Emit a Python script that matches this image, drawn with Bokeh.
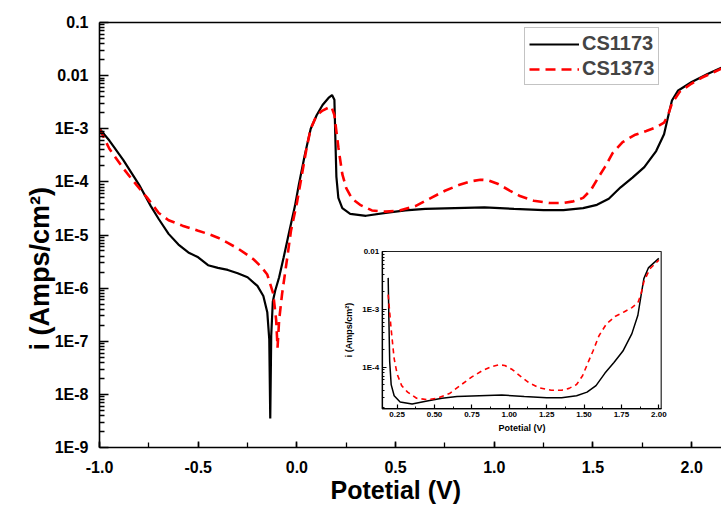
import math
from bokeh.plotting import figure
from bokeh.models import (Range1d, FixedTicker, SingleIntervalTicker, CustomJSTickFormatter,
                          PrintfTickFormatter, Legend, LegendItem, LinearAxis, LogAxis, LogScale,
                          Title)
from bokeh.embed import file_html
from bokeh.resources import INLINE

# ---------------- data (potential V, current density A/cm^2) ----------------
cs1173_v = [-1.00, -0.95, -0.88, -0.80, -0.74, -0.70, -0.65, -0.60, -0.55, -0.50, -0.45, -0.40,
            -0.35, -0.30, -0.25, -0.20, -0.17, -0.150, -0.140, -0.135, -0.130, -0.122, -0.110,
            -0.09, -0.067, -0.04, -0.01, 0.01, 0.04, 0.07, 0.10, 0.13, 0.16, 0.178, 0.19, 0.195,
            0.20, 0.21, 0.23, 0.27, 0.35, 0.45, 0.55, 0.65, 0.80, 0.95, 1.10, 1.25, 1.35, 1.45,
            1.52, 1.58, 1.64, 1.70, 1.76, 1.82, 1.86, 1.88, 1.90, 1.93, 2.00, 2.08, 2.15]
cs1173_i = [1.0e-3, 6.0e-4, 2.6e-4, 8.9e-5, 3.5e-5, 2.0e-5, 1.05e-5, 6.6e-6, 4.7e-6, 3.8e-6,
            2.7e-6, 2.4e-6, 2.2e-6, 1.9e-6, 1.6e-6, 1.1e-6, 7.1e-7, 3.5e-7, 1.1e-7, 3.5e-9,
            1.3e-7, 5.6e-7, 8.9e-7, 1.6e-6, 3.8e-6, 1.1e-5, 3.5e-5, 8.9e-5, 3.2e-4, 1.0e-3,
            1.8e-3, 2.8e-3, 3.8e-3, 4.3e-3, 3.5e-3, 6.3e-4, 1.26e-4, 5.0e-5, 3.2e-5, 2.5e-5,
            2.3e-5, 2.6e-5, 2.9e-5, 3.1e-5, 3.2e-5, 3.3e-5, 3.1e-5, 2.95e-5, 2.95e-5, 3.2e-5,
            3.7e-5, 4.8e-5, 7.9e-5, 1.2e-4, 1.9e-4, 3.8e-4, 7.9e-4, 1.66e-3, 3.4e-3, 5.2e-3,
            7.6e-3, 1.07e-2, 1.41e-2]

cs1373_v = [-1.00, -0.95, -0.88, -0.83, -0.76, -0.70, -0.65, -0.58, -0.50, -0.45, -0.40, -0.35,
            -0.30, -0.25, -0.22, -0.18, -0.15, -0.12, -0.105, -0.098, -0.09, -0.075, -0.05,
            -0.03, 0.00, 0.02, 0.05, 0.07, 0.10, 0.13, 0.16, 0.175, 0.19, 0.21, 0.23, 0.25, 0.28,
            0.32, 0.38, 0.45, 0.52, 0.60, 0.68, 0.75, 0.82, 0.88, 0.93, 0.97, 1.02, 1.08, 1.13,
            1.20, 1.28, 1.35, 1.40, 1.45, 1.49, 1.53, 1.56, 1.60, 1.65, 1.71, 1.77, 1.82, 1.86,
            1.88, 1.90, 1.94, 2.00, 2.05, 2.11, 2.15]
cs1373_i = [1.0e-3, 4.2e-4, 1.8e-4, 1.05e-4, 5.1e-5, 2.6e-5, 1.9e-5, 1.5e-5, 1.2e-5, 1.05e-5,
            8.9e-6, 7.1e-6, 5.6e-6, 4.2e-6, 3.5e-6, 2.5e-6, 1.8e-6, 7.9e-7, 2.5e-7, 7.6e-8,
            2.5e-7, 7.8e-7, 3.5e-6, 1.2e-5, 4.0e-5, 1.05e-4, 4.5e-4, 1.0e-3, 1.8e-3, 2.2e-3,
            2.5e-3, 2.6e-3, 1.8e-3, 4.5e-4, 1.4e-4, 7.6e-5, 4.8e-5, 3.7e-5, 2.9e-5, 2.75e-5,
            2.9e-5, 3.5e-5, 5.0e-5, 6.8e-5, 8.7e-5, 1.02e-4, 1.1e-4, 1.07e-4, 9.1e-5, 6.8e-5,
            5.4e-5, 4.4e-5, 4.0e-5, 4.0e-5, 4.3e-5, 5.0e-5, 7.1e-5, 1.26e-4, 1.9e-4, 3.5e-4,
            5.6e-4, 7.6e-4, 9.1e-4, 1.07e-3, 1.3e-3, 1.8e-3, 3.0e-3, 5.0e-3, 7.1e-3, 9.1e-3,
            1.15e-2, 1.35e-2]

main_x_range = (-1.0, 2.151)
main_y_range = (1e-9, 0.1)
main_y_exps = [-9, -8, -7, -6, -5, -4, -3, -2, -1]
main_y_labels = ["1E-9", "1E-8", "1E-7", "1E-6", "1E-5", "1E-4", "1E-3", "0.01", "0.1"]
x_title = "Potetial (V)"
y_title = "i (Amps/cm²)"
series_names = ["CS1173", "CS1373"]

inset_x_range = (0.15, 2.016)
inset_y_range = (10 ** -4.72, 0.01)
inset_y_exps = [-4, -3, -2]
inset_y_labels = ["1E-4", "1E-3", "0.01"]
inset_start_v = 0.185

FONT = "Liberation Sans"

# ---------------- layout geometry (pixels) ----------------
W, H = 721, 515
FRAME_L, FRAME_R, FRAME_T, FRAME_B = 99, 721, 22, 447
INSET_L, INSET_R, INSET_T, INSET_B = 381.7, 660.7, 251.0, 408.3

# extend the inset ranges so that they land on the inset box inside the main frame
sx = (INSET_R - INSET_L) / (inset_x_range[1] - inset_x_range[0])
ext_x = (inset_x_range[0] - (INSET_L - FRAME_L) / sx, inset_x_range[1] + (FRAME_R - INSET_R) / sx)
ly0, ly1 = math.log10(inset_y_range[0]), math.log10(inset_y_range[1])
sy = (INSET_B - INSET_T) / (ly1 - ly0)
ext_y = (10 ** (ly0 - (FRAME_B - INSET_B) / sy), 10 ** (ly1 + (INSET_T - FRAME_T) / sy))


def log_ticker(exps, lo, hi):
    majors = [10.0 ** e for e in exps]
    minors = [k * 10.0 ** e for e in range(exps[0] - 1, exps[-1] + 1) for k in range(2, 10)]
    minors = [m for m in minors if lo <= m <= hi]
    return FixedTicker(ticks=majors, minor_ticks=minors)


def log_formatter(exps, labels):
    return CustomJSTickFormatter(args=dict(exps=exps, labels=labels), code="""
        const e = Math.round(Math.log10(tick));
        const k = exps.indexOf(e);
        return k >= 0 ? labels[k] : "";
    """)


def style_axis(ax, label_px, title_px, line_w):
    ax.axis_line_width = line_w
    ax.major_tick_line_width = line_w
    ax.minor_tick_line_width = line_w * 0.8
    ax.major_tick_out = 0
    ax.minor_tick_out = 0
    ax.major_label_text_font = FONT
    ax.major_label_text_font_style = "bold"
    ax.major_label_text_font_size = label_px
    ax.major_label_text_color = "black"
    ax.axis_label_text_font = FONT
    ax.axis_label_text_font_style = "bold"
    ax.axis_label_text_font_size = title_px
    ax.axis_label_text_color = "black"


# ---------------- main figure ----------------
p = figure(width=W, height=H, x_range=Range1d(*main_x_range), y_range=Range1d(*main_y_range),
           y_axis_type="log", output_backend="svg", toolbar_location=None,
           min_border_left=FRAME_L, min_border_right=W - FRAME_R, min_border_top=FRAME_T,
           min_border_bottom=H - FRAME_B)
p.outline_line_color = None
p.grid.visible = False
p.extra_x_ranges = {"ix": Range1d(*ext_x)}
p.extra_y_ranges = {"iy": Range1d(*ext_y)}
p.extra_y_scales = {"iy": LogScale()}

rb = p.line(cs1173_v, cs1173_i, line_color="black", line_width=2.2)
rr = p.line(cs1373_v, cs1373_i, line_color="#ff0000", line_width=2.6, line_dash="10 6")

p.xaxis.ticker = SingleIntervalTicker(interval=0.5, num_minor_ticks=2)
p.xaxis.formatter = PrintfTickFormatter(format="%.1f")
p.yaxis.ticker = log_ticker(main_y_exps, *main_y_range)
p.yaxis.formatter = log_formatter(main_y_exps, main_y_labels)
style_axis(p.xaxis[0], "16px", "25px", 1.6)
style_axis(p.yaxis[0], "16px", "27px", 1.6)
p.xaxis.major_tick_in = 6
p.xaxis.minor_tick_in = 5
p.yaxis.major_tick_in = 9
p.yaxis.minor_tick_in = 5
p.xaxis.major_label_standoff = 13
p.yaxis.major_label_standoff = 11

# axis titles as side-panel titles so they can sit off-centre like the reference
p.add_layout(Title(text=x_title, align="left", offset=330 - FRAME_L, standoff=-3,
                   text_font=FONT, text_font_style="bold", text_font_size="25px",
                   text_color="black"), "below")
p.add_layout(Title(text=y_title, align="left", offset=FRAME_B - 350, standoff=-6,
                   text_font=FONT, text_font_style="bold", text_font_size="27px",
                   text_color="black"), "left")

top_axis = LinearAxis(ticker=FixedTicker(ticks=[]), major_tick_in=0, major_tick_out=0,
                      minor_tick_in=0, minor_tick_out=0, axis_line_width=1.6)
p.add_layout(top_axis, "above")

legend = Legend(items=[LegendItem(label=series_names[0], renderers=[rb]),
                       LegendItem(label=series_names[1], renderers=[rr])],
                location=(524 - FRAME_L, FRAME_B - 85))
legend.label_text_font = FONT
legend.label_text_font_style = "bold"
legend.label_text_font_size = "20px"
legend.glyph_width = 50
legend.glyph_height = 22
legend.label_height = 22
legend.label_standoff = 3
legend.spacing = 2
legend.padding = 4
legend.margin = 0
legend.border_line_color = "#888888"
legend.border_line_width = 1
p.add_layout(legend, "center")

# ---------------- inset (drawn on the extra ranges) ----------------
p.quad(left=[inset_x_range[0]], right=[inset_x_range[1]], bottom=[inset_y_range[0]],
       top=[inset_y_range[1]], x_range_name="ix", y_range_name="iy",
       fill_color="white", line_color="#222222", line_width=1.2)

b_idx = [k for k, v in enumerate(cs1173_v) if inset_start_v <= v <= inset_x_range[1]]
r_idx = [k for k, v in enumerate(cs1373_v) if inset_start_v <= v <= inset_x_range[1]]
p.line([cs1173_v[k] for k in b_idx], [cs1173_i[k] for k in b_idx], x_range_name="ix",
       y_range_name="iy", line_color="black", line_width=1.5)
p.line([cs1373_v[k] for k in r_idx], [cs1373_i[k] for k in r_idx], x_range_name="ix",
       y_range_name="iy", line_color="#ff0000", line_width=1.6, line_dash="5 4")

ix_axis = LinearAxis(x_range_name="ix", y_range_name="iy", fixed_location=inset_y_range[0],
                     bounds=inset_x_range,
                     ticker=SingleIntervalTicker(interval=0.25, num_minor_ticks=2),
                     formatter=PrintfTickFormatter(format="%.2f"), axis_label=x_title)
iy_axis = LogAxis(x_range_name="ix", y_range_name="iy", fixed_location=inset_x_range[0],
                  bounds=inset_y_range, ticker=log_ticker(inset_y_exps, *inset_y_range),
                  formatter=log_formatter(inset_y_exps, inset_y_labels), axis_label=y_title)
for ax in (ix_axis, iy_axis):
    style_axis(ax, "8px", "9px", 1.2)
    ax.major_tick_in = 4
    ax.minor_tick_in = 2
    ax.major_label_standoff = 3
    ax.axis_label_standoff = 3
iy_axis.axis_label_standoff = 6
p.add_layout(ix_axis, "below")
p.add_layout(iy_axis, "left")

open("out.html", "w").write(file_html(p, INLINE))
